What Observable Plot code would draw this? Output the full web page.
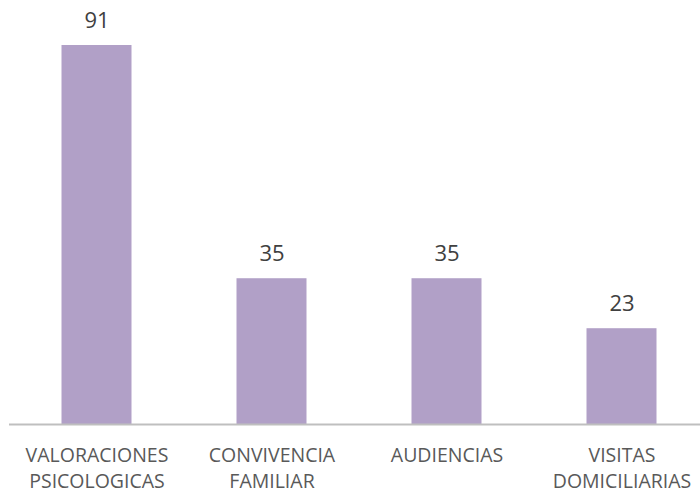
<!DOCTYPE html>
<html>
<head>
<meta charset="utf-8">
<script src="https://cdn.jsdelivr.net/npm/d3@7"></script>
<script src="https://cdn.jsdelivr.net/npm/@observablehq/plot@0.6"></script>
<style>
  html, body { margin: 0; padding: 0; background: #ffffff; }
  #chart svg { display: block; }
</style>
</head>
<body>
<div id="chart"></div>
<script>
const categories = ["VALORACIONES\nPSICOLOGICAS", "CONVIVENCIA\nFAMILIAR", "AUDIENCIAS", "VISITAS\nDOMICILIARIAS"];
const values = [91, 35, 35, 23];

const data = categories.map((c, i) => ({category: c, value: values[i]}));

const chart = Plot.plot({
  width: 700,
  height: 491,
  marginTop: 45,
  marginBottom: 67,
  marginLeft: 9,
  marginRight: 0,
  style: {fontFamily: "'Open Sans', sans-serif", background: "#ffffff"},
  x: {domain: categories, range: [9, 709], paddingInner: 0.6, paddingOuter: 0.3, round: false, axis: null},
  y: {domain: [0, 91], axis: null},
  marks: [
    Plot.barY(data, {x: "category", y: "value", fill: "#b1a0c7"}),
    Plot.ruleY([0], {stroke: "#bfbfbf", strokeWidth: 2}),
    Plot.text(data, {x: "category", y: "value", text: d => String(d.value), lineAnchor: "bottom", dy: -18, fontSize: 22, fill: "#404040"}),
    Plot.text(data, {x: "category", frameAnchor: "bottom", text: "category", lineAnchor: "top", dy: 19, fontSize: 19.5, lineHeight: 1.333, fill: "#595959"})
  ]
});
document.getElementById("chart").appendChild(chart);
</script>
</body>
</html>
